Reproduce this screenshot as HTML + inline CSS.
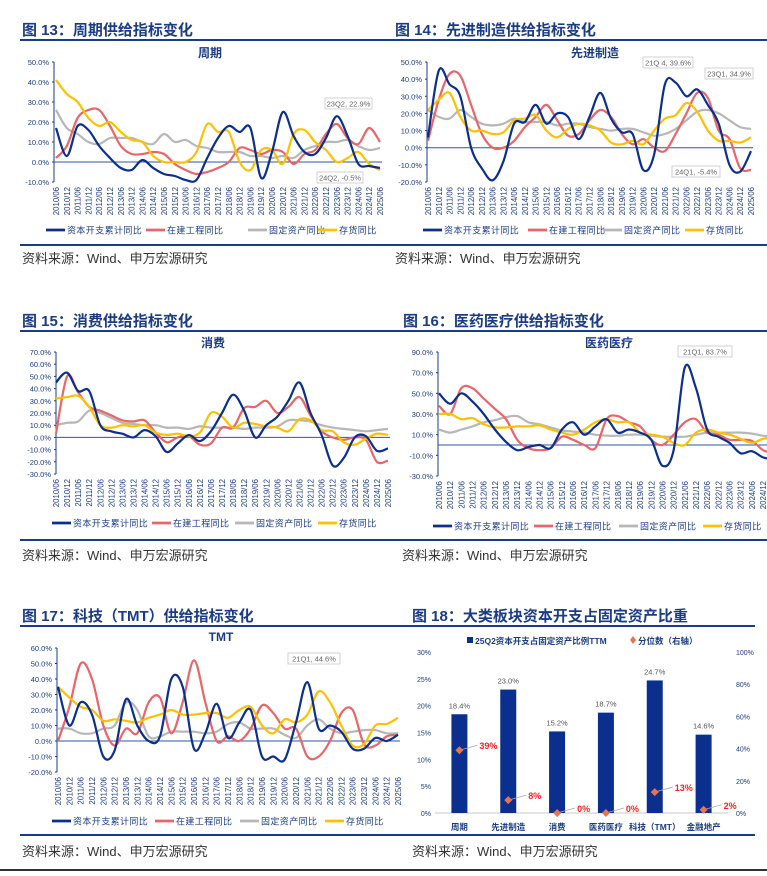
<!DOCTYPE html>
<html><head><meta charset="utf-8">
<style>
html,body{margin:0;padding:0;background:#fff;}
body{width:767px;height:871px;overflow:hidden;position:relative;font-family:"Liberation Sans","Noto Sans CJK SC",sans-serif;}
svg text{font-family:"Liberation Sans","Noto Sans CJK SC",sans-serif;}
</style></head>
<body>
<svg id="page" width="767" height="871" viewBox="0 0 767 871" xmlns="http://www.w3.org/2000/svg"></svg>
<script>
// ---- shared categories ----
const xLabels = ["2010/06","2010/12","2011/06","2011/12","2012/06","2012/12","2013/06","2013/12","2014/06","2014/12","2015/06","2015/12","2016/06","2016/12","2017/06","2017/12","2018/06","2018/12","2019/06","2019/12","2020/06","2020/12","2021/06","2021/12","2022/06","2022/12","2023/06","2023/12","2024/06","2024/12","2025/06"];
const seriesNames = ["资本开支累计同比","在建工程同比","固定资产同比","存货同比"];
// ---- 图13 周期 ----
const c13Capex = [17,3,18,16,8,2,-3,-4,1,-3,-6,-7,-9,-9,2,12,18,15,17,-8,5,25,13,5,4,12,22.9,13,-1,-2,-3];
const c13Cip   = [2,8,22,26,26,18,8,4,4,5,4,-1,-4,-6,-5,-3,0,7,6,4,6,5,-1,4,6,14,19,12,9,17,10];
const c13Fixed = [26,17,14,10,9,12,12,12,10,9,14,10,11,8,7,5,5,5,3,3,2,3,2,6,8,10,10,11,8,6,7];
const c13Inv   = [41,34,30,22,18,20,15,11,10,3,0,0,0,5,19,15,15,0,-4,6,6,-1,14,16,10,6,0,2,5,-1,-4];
const c13Ticks = [50,40,30,20,10,0,-10];
// ---- 图14 先进制造 ----
const c14Capex = [6,45,37,30,0,-12,-19,-8,14,15,25,14,20,18,5,18,32,17,9,8,-13,-4,37,38,30,34,25,14,-10,-14,-2];
const c14Cip   = [4,28,43,42,25,8,0,0,4,12,18,25,16,7,8,16,22,18,8,2,5,0,-2,8,20,32,29,10,5,-12,-13];
const c14Fixed = [22,18,17,22,18,14,13,14,17,15,15,15,13,14,14,12,11,10,11,11,9,7,8,11,16,21,22,20,16,12,11];
const c14Inv   = [22,28,32,18,10,10,8,9,16,17,19,10,6,11,14,13,10,3,2,4,2,10,17,19,26,21,10,4,4,3,6];
const c14Ticks = [50,40,30,20,10,0,-10,-20];
// ---- 图15 消费 ----
const c15Capex = [45,53,38,38,10,5,3,0,6,1,-12,-5,2,-3,5,20,35,22,0,10,17,30,45,20,2,-23,-17,0,1,-11,-9];
const c15Cip   = [3,50,37,25,22,18,14,13,14,4,-4,0,1,-6,-5,8,8,24,25,30,20,25,33,18,5,0,-2,0,-2,-20,-19];
const c15Fixed = [10,12,13,22,20,16,12,11,10,10,8,8,7,9,8,8,8,7,8,8,9,14,14,13,10,8,7,6,5,6,7];
const c15Inv   = [32,33,34,25,10,8,10,9,10,4,2,3,1,4,20,17,8,12,11,9,8,5,15,14,6,5,-4,-6,-1,3,2];
const c15Ticks = [70,60,50,40,30,20,10,0,-10,-20,-30];
// ---- 图16 医药医疗 ----
const c16Capex = [50,40,50,42,30,15,3,-5,-2,0,-3,15,22,10,18,25,12,15,12,5,-20,-5,75,55,15,8,2,-8,-6,-12,-14];
const c16Cip   = [38,30,55,55,45,35,25,5,-3,-5,-3,8,5,0,-3,25,28,22,18,5,0,10,22,25,12,10,5,5,4,-5,-8];
const c16Fixed = [15,12,15,18,22,24,27,28,22,20,17,14,13,12,10,9,9,10,10,9,8,8,8,10,12,12,12,12,11,9,8];
const c16Inv   = [30,30,25,26,20,17,17,18,18,19,15,12,10,15,22,25,22,22,12,10,8,2,0,12,15,12,10,6,2,6,7];
const c16Ticks = [90,70,50,30,10,-10,-30];
// ---- 图17 TMT ----
const c17Capex = [35,10,25,17,-10,-6,27,10,0,3,40,35,-5,5,24,2,12,20,-10,-10,-12,12,38,8,10,6,-5,-5,2,0,4];
const c17Cip   = [0,22,50,40,10,-3,8,5,25,28,5,25,52,25,0,3,0,8,23,18,8,8,-10,-10,0,18,20,-2,-3,3,4];
const c17Fixed = [8,8,5,5,8,10,25,20,3,3,6,6,6,5,6,11,12,8,8,8,4,2,10,14,8,5,6,7,7,5,5];
const c17Inv   = [35,28,22,20,13,14,13,12,15,17,20,17,17,18,18,15,20,22,10,5,14,12,17,32,25,10,-3,-2,10,11,15];
const c17Ticks = [60,50,40,30,20,10,0,-10,-20];
// ---- 图18 bars ----
const c18Cats = ["周期","先进制造","消费","医药医疗","科技（TMT）","金融地产"];
const c18Ratio = [18.4,23.0,15.2,18.7,24.7,14.6];
const c18Pct = [39,8,0,0,13,2];
const c18LeftTicks = [0,5,10,15,20,25,30];
const c18RightTicks = [0,20,40,60,80,100];

const NS="http://www.w3.org/2000/svg";
const page=document.getElementById('page');
const COLORS=["#0b2f8f","#e8666a","#b7b7b7","#ffc000"];
function mk(tag,attrs,parent,text){const e=document.createElementNS(NS,tag);for(const k in attrs)e.setAttribute(k,attrs[k]);if(text!==undefined)e.textContent=text;(parent||page).appendChild(e);return e;}

function smoothPath(pts){let d="M"+pts[0][0].toFixed(1)+","+pts[0][1].toFixed(1);
 for(let i=0;i<pts.length-1;i++){const p0=pts[i-1]||pts[i],p1=pts[i],p2=pts[i+1],p3=pts[i+2]||p2;
  const c1x=p1[0]+(p2[0]-p0[0])/6,c1y=p1[1]+(p2[1]-p0[1])/6,c2x=p2[0]-(p3[0]-p1[0])/6,c2y=p2[1]-(p3[1]-p1[1])/6;
  d+=" C"+c1x.toFixed(1)+","+c1y.toFixed(1)+" "+c2x.toFixed(1)+","+c2y.toFixed(1)+" "+p2[0].toFixed(1)+","+p2[1].toFixed(1);}
 return d;}

function header(x,y,lineX1,lineX2,lineY,text){
 const t=mk('text',{x:x,y:y,'font-size':15,'font-weight':'bold',fill:'#1b3c84'},page,text);
 
 
 const l=mk('line',{x1:lineX1,x2:lineX2,y1:lineY,y2:lineY,stroke:'#1b3c84','stroke-width':2});
 
 
}
function footer(x1,x2,lineY,srcX,srcY){
 const l=mk('line',{x1:x1,x2:x2,y1:lineY,y2:lineY,stroke:'#1b3c84','stroke-width':2});
 
 
 const t=mk('text',{x:srcX,y:srcY,'font-size':13,fill:'#333'},page,'资料来源：Wind、申万宏源研究');
 
 
}

function lineChart(cfg){
 const g=mk('g',{});
 
 
 const ymax=cfg.ticks[0],ymin=cfg.ticks[cfg.ticks.length-1];
 const yS=v=>cfg.yTop+(ymax-v)/(ymax-ymin)*(cfg.yBot-cfg.yTop);
 const step=(cfg.xLast-cfg.x0)/(cfg.nLabels-1);
 const xS=i=>cfg.x0+i*step;
 const pt=mk('text',{x:cfg.titleX,y:cfg.titleY,'font-size':12,'font-weight':'bold',fill:'#1b3c84','text-anchor':'middle'},g,cfg.title);
 
 
 const ax=mk('line',{x1:cfg.axisX,x2:cfg.axisX,y1:cfg.yTop,y2:cfg.yBot,stroke:'#1b3c84','stroke-width':1},g);
 
 
 cfg.ticks.forEach(v=>{
  const t=mk('text',{x:cfg.axisX-5,y:yS(v)+3,'font-size':7.5,fill:'#1b3c84','text-anchor':'end'},g,v.toFixed(1)+'%');
  
  
  mk('line',{x1:cfg.axisX-2,x2:cfg.axisX,y1:yS(v),y2:yS(v),stroke:'#1b3c84','stroke-width':1},g);
 });
 const z=mk('line',{x1:cfg.axisX,x2:cfg.zeroEnd,y1:yS(0),y2:yS(0),stroke:'#2f55a4','stroke-width':1},g);
 
 
 for(let i=0;i<cfg.nLabels;i++){
  const x=xS(i)+3,y=cfg.yBot+5;
  const t=mk('text',{x:x,y:y,'font-size':7.8,fill:'#1b3c84','text-anchor':'end',transform:'rotate(-90 '+x+' '+y+')'},g,xLabels[i]);
  
  
 }
 const order=[2,1,3,0];
 order.forEach(k=>{
  const pts=cfg.series[k].map((v,i)=>[xS(i),yS(v)]);
  const p=mk('path',{d:smoothPath(pts),fill:'none',stroke:COLORS[k],'stroke-width':2.2,'stroke-linejoin':'round'},g);
  
  
 });
 (cfg.notes||[]).forEach(n=>{
  const r=mk('rect',{x:n.x,y:n.y,width:n.w,height:11,fill:'#fff',stroke:'#c8c8c8','stroke-width':0.8},g);
  
  
  mk('text',{x:n.x+n.w/2,y:n.y+8.5,'font-size':7.5,fill:'#666','text-anchor':'middle'},g,n.t);
 });
 const ly=cfg.legendY;
 seriesNames.forEach((s,k)=>{
  const x=cfg.legendPos[k];
  const le=mk('g',{},g);
  
  
  mk('line',{x1:x,x2:x+19,y1:ly,y2:ly,stroke:COLORS[k],'stroke-width':2.8},le);
  mk('text',{x:x+21,y:ly+3.3,'font-size':9,'letter-spacing':0.4,fill:'#1b3c84'},le,s);
 });
}

// figure 13
header(22,35,20,390,40,'图 13：周期供给指标变化');
lineChart({name:'chart-cycle',title:'周期',titleX:210,titleY:57,ticks:c13Ticks,yTop:62,yBot:182,axisX:54,x0:56,xLast:380,nLabels:31,zeroEnd:382,
 series:[c13Capex,c13Cip,c13Fixed,c13Inv],legendY:230,legendPos:[46,146,248,318],
 notes:[{x:325,y:98,w:47,t:'23Q2, 22.9%'},{x:317,y:172,w:46,t:'24Q2, -0.5%'}]});
footer(20,390,245,22,263);

// figure 14
header(395,35,385,767,40,'图 14：先进制造供给指标变化');
lineChart({name:'chart-advanced-mfg',title:'先进制造',titleX:595,titleY:57,ticks:c14Ticks,yTop:62,yBot:182,axisX:427,x0:428,xLast:751,nLabels:31,zeroEnd:753,
 series:[c14Capex,c14Cip,c14Fixed,c14Inv],legendY:230,legendPos:[423,528,603,685],
 notes:[{x:643,y:57,w:50,t:'21Q 4, 39.6%'},{x:705,y:68,w:48,t:'23Q1, 34.9%'},{x:672,y:166,w:48,t:'24Q1, -5.4%'}]});
footer(385,767,245,395,263);

// figure 15
header(22,326,20,400,331,'图 15：消费供给指标变化');
lineChart({name:'chart-consumer',title:'消费',titleX:213,titleY:347,ticks:c15Ticks,yTop:352,yBot:474,axisX:56,x0:56,xLast:388,nLabels:31,zeroEnd:390,
 series:[c15Capex,c15Cip,c15Fixed,c15Inv],legendY:523,legendPos:[52,152,235,318],notes:[]});
footer(20,400,540,22,560);

// figure 16
header(403,326,390,767,331,'图 16：医药医疗供给指标变化');
lineChart({name:'chart-pharma',title:'医药医疗',titleX:609,titleY:347,ticks:c16Ticks,yTop:352,yBot:476,axisX:438,x0:439,xLast:763,nLabels:30,zeroEnd:767,
 series:[c16Capex,c16Cip,c16Fixed,c16Inv],legendY:526,legendPos:[433,534,619,703],
 notes:[{x:678,y:346,w:54,t:'21Q1, 83.7%'}]});
footer(390,767,540,402,560);

// figure 17
header(22,621,20,410,626,'图 17：科技（TMT）供给指标变化');
lineChart({name:'chart-tmt',title:'TMT',titleX:221,titleY:641,ticks:c17Ticks,yTop:648,yBot:772,axisX:57,x0:58,xLast:398,nLabels:31,zeroEnd:400,
 series:[c17Capex,c17Cip,c17Fixed,c17Inv],legendY:821,legendPos:[52,155,240,325],
 notes:[{x:288,y:653,w:52,t:'21Q1, 44.6%'}]});
footer(20,410,835,22,856);

// figure 18
header(412,621,400,755,626,'图 18：大类板块资本开支占固定资产比重');
(function(){
 const g=mk('g',{});
 
 
 const yTop=652,yBot=813,x1=435,x2=728;
 const yL=v=>yBot-v/30*(yBot-yTop);
 const yR=v=>yBot-v/100*(yBot-yTop);
 const band=(x2-x1)/c18Cats.length;
 const xC=i=>x1+band*(i+0.5);
 const lg=mk('g',{},g);
 
 
 mk('rect',{x:467,y:637,width:6,height:6,fill:'#0b2f8f'},lg);
 mk('text',{x:475,y:644,'font-size':8.5,'font-weight':'bold',fill:'#1b3c84'},lg,'25Q2资本开支占固定资产比例TTM');
 mk('path',{d:'M633,636 L636,640 L633,644 L630,640Z',fill:'#e8734f'},lg);
 mk('text',{x:638,y:644,'font-size':8.5,'font-weight':'bold',fill:'#1b3c84'},lg,'分位数（右轴）');
 c18LeftTicks.forEach(v=>{const t=mk('text',{x:431,y:yL(v)+3,'font-size':7,fill:'#1b3c84','text-anchor':'end'},g,v+'%');
  
  });
 c18RightTicks.forEach(v=>{const t=mk('text',{x:736,y:yR(v)+3,'font-size':7,fill:'#1b3c84'},g,v+'%');
  
  });
 const ax=mk('line',{x1:x1,x2:x2,y1:yBot,y2:yBot,stroke:'#c8c8c8','stroke-width':1},g);
 
 
 c18Cats.forEach((c,i)=>{
  const b=mk('rect',{x:xC(i)-8,y:yL(c18Ratio[i]),width:16,height:yBot-yL(c18Ratio[i]),fill:'#0b2f8f'},g);
  
  
  mk('text',{x:xC(i),y:yL(c18Ratio[i])-6,'font-size':7.5,fill:'#555','text-anchor':'middle'},g,c18Ratio[i].toFixed(1)+'%');
  const cl=mk('text',{x:xC(i),y:830,'font-size':8.5,'font-weight':'bold',fill:'#1b3c84','text-anchor':'middle'},g,c);
  
  
  const py=yR(c18Pct[i]),px=xC(i);
  mk('line',{x1:px,y1:py,x2:px+18,y2:py-5,stroke:'#aaa','stroke-width':0.8},g);
  const d=mk('path',{d:`M${px},${py-4} L${px+4},${py} L${px},${py+4} L${px-4},${py}Z`,fill:'#e8734f'},g);
  
  
  mk('text',{x:px+20,y:py-1,'font-size':9,'font-weight':'bold',fill:'#ff1f1f'},g,c18Pct[i]+'%');
 });
})();
footer(400,755,835,412,856);
mk('line',{x1:0,x2:767,y1:870,y2:870,stroke:'#333','stroke-width':2});
</script>
</body></html>
